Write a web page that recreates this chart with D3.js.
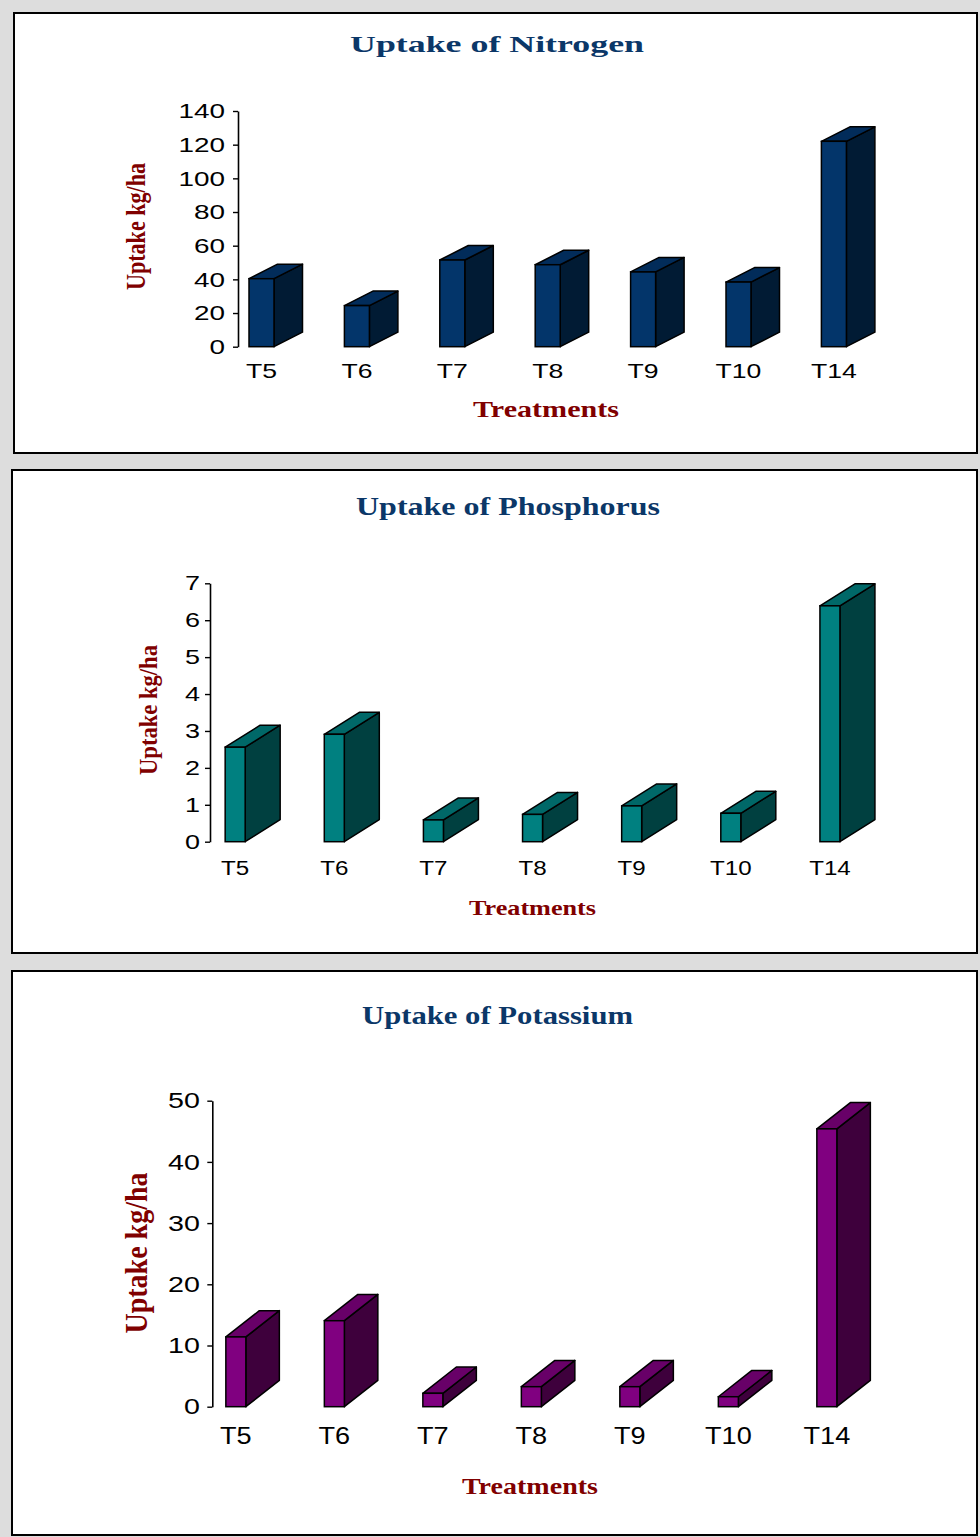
<!DOCTYPE html>
<html>
<head>
<meta charset="utf-8">
<script src="https://cdn.jsdelivr.net/npm/d3@7"></script>
<style>
  html, body { margin: 0; padding: 0; background: #dddddd; }
  svg { display: block; }
</style>
</head>
<body>
<svg id="page" width="980" height="1537"></svg>
<script>
// ---- data ----
const treatments = ["T5", "T6", "T7", "T8", "T9", "T10", "T14"];

const nitrogenUptake   = [40.4, 24.4, 51.5, 48.7, 44.4, 38.4, 122.0];
const phosphorusUptake = [2.56, 2.91, 0.59, 0.74, 0.97, 0.77, 6.39];
const potassiumUptake  = [11.4, 14.05, 2.19, 3.27, 3.27, 1.63, 45.4];

const nitrogenTicks   = [0, 20, 40, 60, 80, 100, 120, 140];
const phosphorusTicks = [0, 1, 2, 3, 4, 5, 6, 7];
const potassiumTicks  = [0, 10, 20, 30, 40, 50];

const chartTitles = ["Uptake of Nitrogen", "Uptake of Phosphorus", "Uptake of Potassium"];
const yAxisTitle = "Uptake kg/ha";
const xAxisTitle = "Treatments";

// ---- layout / styling for the three panels ----
const panels = [
  {
    title: chartTitles[0], values: nitrogenUptake, ticks: nitrogenTicks,
    box: { x: 14, y: 13, w: 963, h: 440 },
    yRange: [346.7, 111], xRange: [213.8, 881.6], axisX: 238,
    barW: 25, dx: 28.5, dy: -14.5,
    colors: { front: "#03356a", top: "#022c5a", side: "#011b34" },
    titleText: { x: 497, y: 52.3, size: 23.5, len: 294 },
    tick: { size: 21, sx: 1.33, right: 225 },
    cat: { size: 20, sx: 1.33, y: 377.7 },
    xTitle: { x: 546, y: 417.3, size: 23.5, len: 146 },
    yTitle: { x: 138.3, y: 226.5, size: 22.1, sx: 1.28 }
  },
  {
    title: chartTitles[1], values: phosphorusUptake, ticks: phosphorusTicks,
    box: { x: 12, y: 470, w: 965, h: 483 },
    yRange: [841.7, 583.3], xRange: [185.6, 879.5], axisX: 210,
    barW: 20, dx: 35, dy: -22,
    colors: { front: "#008080", top: "#006868", side: "#004040" },
    titleText: { x: 508, y: 515, size: 24.5, len: 304 },
    tick: { size: 20, sx: 1.35, right: 200 },
    cat: { size: 21, sx: 1.15, y: 875 },
    xTitle: { x: 532.5, y: 915, size: 22, len: 127 },
    yTitle: { x: 151.2, y: 710, size: 22.6, sx: 1.14 }
  },
  {
    title: chartTitles[2], values: potassiumUptake, ticks: potassiumTicks,
    box: { x: 12, y: 971, w: 965, h: 564 },
    yRange: [1406.7, 1100.7], xRange: [186.6, 876.1], axisX: 212.3,
    barW: 20, dx: 33.5, dy: -26.3,
    colors: { front: "#800080", top: "#680068", side: "#3e003c" },
    titleText: { x: 497.5, y: 1024, size: 25, len: 271 },
    tick: { size: 22.4, sx: 1.28, right: 200 },
    cat: { size: 24, sx: 1.13, y: 1444 },
    xTitle: { x: 530, y: 1494, size: 24, len: 136 },
    yTitle: { x: 139, y: 1253, size: 28, sx: 1.15 }
  }
];

const SANS = "'Liberation Sans', Arial, Helvetica, sans-serif";
const SERIF = "'Liberation Serif', 'Times New Roman', Times, serif";
const TITLE_BLUE = "#0b3768";
const AXIS_RED = "#800000";

const svg = d3.select("#page");

svg.append("rect")
  .attr("x", 0).attr("y", 0).attr("width", 980).attr("height", 1537)
  .attr("fill", "#dddddd");

panels.forEach(p => {
  const g = svg.append("g");

  // panel frame
  g.append("rect")
    .attr("x", p.box.x).attr("y", p.box.y)
    .attr("width", p.box.w).attr("height", p.box.h)
    .attr("fill", "#ffffff")
    .attr("stroke", "#000000").attr("stroke-width", 2);

  const y = d3.scaleLinear().domain([0, d3.max(p.ticks)]).range(p.yRange);
  const x = d3.scaleBand().domain(treatments).range(p.xRange);

  // title
  g.append("text")
    .attr("x", p.titleText.x).attr("y", p.titleText.y)
    .attr("text-anchor", "middle")
    .attr("textLength", p.titleText.len)
    .attr("lengthAdjust", "spacingAndGlyphs")
    .style("font-family", SERIF).style("font-weight", "bold")
    .style("font-size", p.titleText.size + "px")
    .attr("fill", TITLE_BLUE)
    .text(p.title);

  // y axis
  const tickLen = 5;
  const pad = p.axisX - tickLen - p.tick.right;
  const yAxis = g.append("g")
    .attr("transform", `translate(${p.axisX},0)`)
    .call(d3.axisLeft(y).tickValues(p.ticks).tickFormat(d3.format("d"))
      .tickSize(tickLen).tickSizeOuter(0).tickPadding(pad));
  yAxis.select(".domain").attr("stroke", "#000").attr("stroke-width", 1.6);
  yAxis.selectAll(".tick line").attr("stroke", "#000").attr("stroke-width", 1.4);
  yAxis.selectAll(".tick text")
    .attr("x", -(tickLen + pad) / p.tick.sx)
    .attr("transform", `scale(${p.tick.sx},1)`)
    .attr("fill", "#000")
    .style("font-family", SANS)
    .style("font-size", p.tick.size + "px");

  // category axis (labels only, centred under each column)
  const xAxis = g.append("g")
    .attr("transform", `translate(0,${p.cat.y})`)
    .call(d3.axisBottom(x).tickSize(0).tickPadding(0));
  xAxis.select(".domain").remove();
  xAxis.selectAll(".tick text")
    .attr("y", 0).attr("dy", 0)
    .attr("transform", `scale(${p.cat.sx},1)`)
    .attr("fill", "#000")
    .style("font-family", SANS)
    .style("font-size", p.cat.size + "px");

  // 3-D columns
  const rows = treatments.map((t, i) => ({ t, v: p.values[i] }));
  const bars = g.append("g").selectAll("g").data(rows).join("g");
  const y0 = y(0);
  const left = d => x(d.t) + x.bandwidth() / 2 - p.barW / 2;
  const right = d => left(d) + p.barW;

  bars.append("polygon") // side face
    .attr("points", d => [
      [right(d), y(d.v)], [right(d) + p.dx, y(d.v) + p.dy],
      [right(d) + p.dx, y0 + p.dy], [right(d), y0]
    ].map(q => q.join(",")).join(" "))
    .attr("fill", p.colors.side).attr("stroke", "#000")
    .attr("stroke-width", 1.5).attr("stroke-linejoin", "round");

  bars.append("polygon") // top face
    .attr("points", d => [
      [left(d), y(d.v)], [right(d), y(d.v)],
      [right(d) + p.dx, y(d.v) + p.dy], [left(d) + p.dx, y(d.v) + p.dy]
    ].map(q => q.join(",")).join(" "))
    .attr("fill", p.colors.top).attr("stroke", "#000")
    .attr("stroke-width", 1.5).attr("stroke-linejoin", "round");

  bars.append("rect") // front face
    .attr("x", d => left(d)).attr("y", d => y(d.v))
    .attr("width", p.barW).attr("height", d => y0 - y(d.v))
    .attr("fill", p.colors.front).attr("stroke", "#000")
    .attr("stroke-width", 1.5);

  // axis titles
  g.append("text")
    .attr("x", p.xTitle.x).attr("y", p.xTitle.y)
    .attr("text-anchor", "middle")
    .attr("textLength", p.xTitle.len)
    .attr("lengthAdjust", "spacingAndGlyphs")
    .style("font-family", SERIF).style("font-weight", "bold")
    .style("font-size", p.xTitle.size + "px")
    .attr("fill", AXIS_RED)
    .text(xAxisTitle);

  const baseX = p.yTitle.x + 0.233 * p.yTitle.size * p.yTitle.sx;
  g.append("text")
    .attr("transform", `translate(${baseX},${p.yTitle.y}) scale(${p.yTitle.sx},1) rotate(-90)`)
    .attr("text-anchor", "middle")
    .style("font-family", SERIF).style("font-weight", "bold")
    .style("font-size", p.yTitle.size + "px")
    .attr("fill", AXIS_RED)
    .text(yAxisTitle);
});
</script>
</body>
</html>
